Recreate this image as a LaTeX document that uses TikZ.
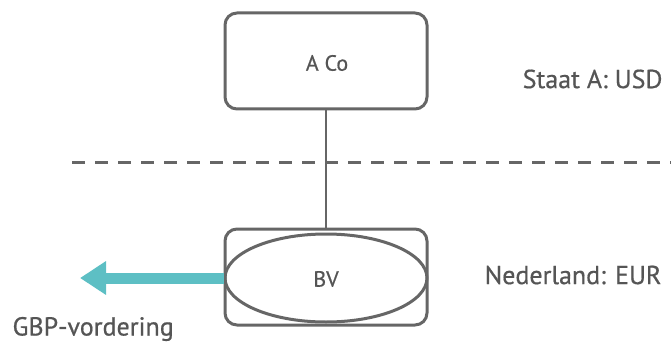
\documentclass[tikz,border=0pt]{standalone}
\usepackage{fontspec}
\setmainfont{PT Sans}[FakeBold=0.6]
\usetikzlibrary{shapes.geometric,arrows.meta}
\definecolor{lg}{HTML}{666666}
\definecolor{tx}{HTML}{555555}
\definecolor{tl}{HTML}{5DBFC4}
\tikzset{
  box/.style={draw=lg,line width=3pt,rounded corners=12pt,minimum width=202pt,minimum height=96pt,inner sep=0pt},
  oval/.style={draw=lg,line width=3pt,ellipse,minimum width=202pt,minimum height=88pt,inner sep=0pt},
  lbl/.style={text=tx,font=\fontsize{26}{28}\selectfont},
  small/.style={text=tx,font=\fontsize{22}{24}\selectfont}
}
\begin{document}
\begin{tikzpicture}[x=1pt,y=-1pt]
\useasboundingbox (0,0) rectangle (671,350);
\node[box] (aco) at (326,61) {};
\node[small] at (327,63) {A Co};
\node[box] (bvbox) at (326,277) {};
\node[oval] (bv) at (326,278) {};
\node[small] at (326,279) {BV};
\draw[lg,line width=2.5pt] (aco.south) -- (bvbox.north);
\coordinate (d1) at (72,162);
\coordinate (d2) at (671,162);
\draw[lg,line width=3pt,dash pattern=on 13pt off 10pt] (d1) -- (d2);
\node[lbl,anchor=east] (sa) at (666,79) {Staat A: USD};
\node[lbl,anchor=east] (nl) at (665,275) {Nederland: EUR};
\node[lbl,anchor=west] (gbp) at (9,329) {GBP-vordering};
\coordinate (tip) at (80,278);
\draw[tl,line width=11pt,-{Triangle[length=26pt,width=32pt]}] (bv.west) -- (tip);
\end{tikzpicture}
\end{document}
